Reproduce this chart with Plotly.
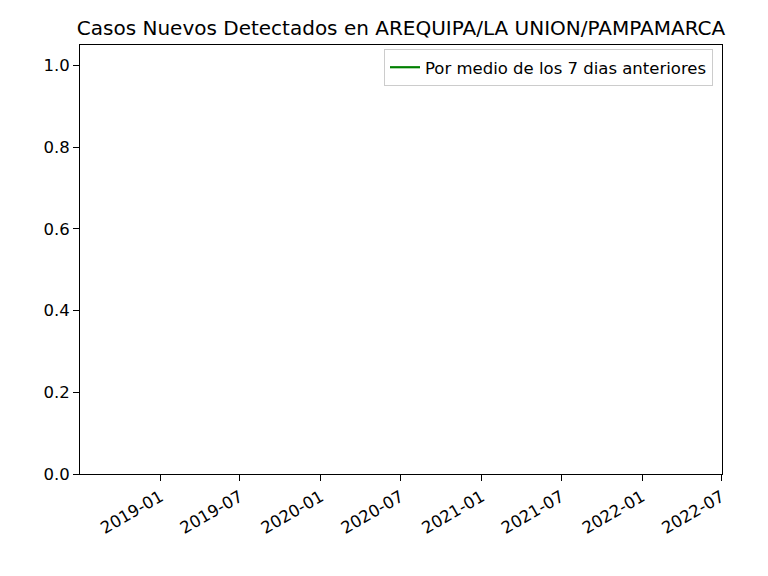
import plotly.graph_objects as go

title = "Casos Nuevos Detectados en AREQUIPA/LA UNION/PAMPAMARCA"
series_name = "Por medio de los 7 dias anteriores"
# the 7-day mean series has no plottable values in the reference (all missing)
dates = ["2020-03-01", "2020-03-02"]
values = [None, None]
x_range = ["2018-07-02", "2022-07-02"]
y_range = [0, 1.05]
x_ticks = ["2019-01-01", "2019-07-01", "2020-01-01", "2020-07-01",
           "2021-01-01", "2021-07-01", "2022-01-01", "2022-07-01"]
x_ticklabels = ["2019-01", "2019-07", "2020-01", "2020-07",
                "2021-01", "2021-07", "2022-01", "2022-07"]
y_ticks = [0.0, 0.2, 0.4, 0.6, 0.8, 1.0]

# page body has an 8px margin; compensate so the plot area lands at 80..722 x 45..474
OFF = 8
L, R, T, B = 80 - OFF, 768 - 722 + OFF, 45 - OFF, 576 - 474 + OFF

fig = go.Figure()
fig.add_trace(go.Scatter(x=dates, y=values, mode="lines", name=series_name,
                         line=dict(color="green", width=2.2), showlegend=True))

axis_common = dict(showline=True, linecolor="black", linewidth=1, mirror=True,
                   ticks="outside", ticklen=6, tickcolor="black", showgrid=False,
                   zeroline=False, tickfont=dict(size=16.5, color="black"))

fig.update_layout(
    width=768, height=576,
    margin=dict(l=L, r=R, t=T, b=B),
    showlegend=True,
    paper_bgcolor="white", plot_bgcolor="white",
    font=dict(family="DejaVu Sans", color="black"),
    title=dict(text=title, x=(80 - OFF + 722 - OFF) / 2 / 768, xanchor="center",
               y=1 - (28 - OFF) / 576, yanchor="middle", font=dict(size=20)),
    xaxis=dict(type="date", range=x_range, tickvals=x_ticks, ticktext=x_ticklabels,
               tickangle=-30, autorange=False, **axis_common),
    yaxis=dict(range=y_range, tickvals=y_ticks, tickformat=".1f", autorange=False,
               **axis_common),
    legend=dict(x=1 - 9 / 642, y=1 - 4 / 429, xanchor="right", yanchor="top",
                bordercolor="#cccccc", borderwidth=1, bgcolor="white",
                font=dict(size=16.5)),
)

fig.write_html("out.html")
